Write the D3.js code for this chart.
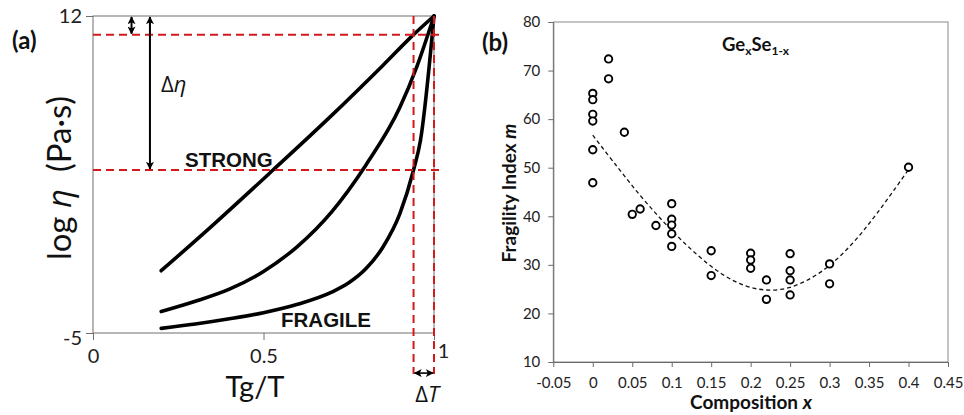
<!DOCTYPE html>
<html><head><meta charset="utf-8">
<script src="https://cdn.jsdelivr.net/npm/d3@7"></script>
<style>body{margin:0;background:#fff} svg{display:block}</style>
</head><body>
<svg id="c" width="964" height="415"></svg>
<script>
// ---------- Panel (a) data ----------
const tgT_strong   = [0.2, 0.35, 0.528, 0.7, 0.85, 0.94, 1];
const logEta_strong = [-1.66, 0.76, 3.74, 6.67, 9.35, 11.0, 12];
const tgT_mid      = [0.2, 0.3, 0.4, 0.5, 0.6, 0.7, 0.8, 0.9, 0.95, 1];
const logEta_mid    = [-3.85, -3.3, -2.65, -1.7, -0.35, 1.5, 4.0, 7.1, 9.3, 12];
const tgT_fragile  = [0.2, 0.3, 0.4, 0.5, 0.6, 0.7, 0.75, 0.8, 0.85, 0.9, 0.94, 0.96, 1];
const logEta_fragile = [-4.75, -4.52, -4.24, -3.91, -3.46, -2.81, -2.31, -1.56, -0.4, 1.4, 3.74, 5.3, 12];
const aXTicks = [0, 0.5, 1];
const aYTicks = [-5, 12];
const etaLevels = [11, 3.74];     // horizontal red dashed levels
const tLevels = [0.94, 1];        // vertical red dashed levels

// ---------- Panel (b) data ----------
const compX = [0,0,0,0,0,0, 0.02,0.02, 0.04, 0.05, 0.06, 0.08,
               0.1,0.1,0.1,0.1,0.1, 0.15,0.15, 0.2,0.2,0.2, 0.22,0.22,
               0.25,0.25,0.25,0.25, 0.3,0.3, 0.4];
const fragM = [65.3,64.0,61.0,59.6,53.7,46.9, 72.4,68.3, 57.3, 40.4, 41.5, 38.1,
               42.6,39.4,38.2,36.4,33.8, 32.9,27.8, 32.4,31.0,29.3, 26.9,22.9,
               32.3,28.8,26.9,23.8, 30.2,26.1, 50.1];
const trendX = [0, 0.03, 0.06, 0.09, 0.12, 0.15, 0.18, 0.21, 0.24, 0.27, 0.30, 0.33, 0.36, 0.40];
const trendM = [56.7, 50.4, 44.3, 38.8, 33.9, 29.7, 26.6, 25.0, 25.0, 26.7, 29.9, 34.6, 40.6, 49.6];
const bXTicks = [-0.05, 0, 0.05, 0.1, 0.15, 0.2, 0.25, 0.3, 0.35, 0.4, 0.45];
const bYTicks = [10, 20, 30, 40, 50, 60, 70, 80];

const svg = d3.select("#c");
svg.append("rect").attr("width",964).attr("height",415).attr("fill","#fff");
const RED = "#d2191c";
const calib = "Lato, 'Open Sans', sans-serif";

// ================= Panel (a) =================
const xA = d3.scaleLinear().domain([0,1]).range([93,434]);
const yA = d3.scaleLinear().domain([-5,12]).range([333,16]);
const gA = svg.append("g");

gA.append("rect").attr("x",xA(0)).attr("y",yA(12))
  .attr("width",xA(1)-xA(0)).attr("height",yA(-5)-yA(12))
  .attr("fill","none").attr("stroke","#6e6e6e").attr("stroke-width",1);

const axA_x = gA.append("g").attr("transform",`translate(0,${yA(-5)})`)
  .call(d3.axisBottom(xA).tickValues(aXTicks).tickSize(7).tickSizeOuter(0).tickPadding(9).tickFormat(d=>String(d)));
const axA_y = gA.append("g").attr("transform",`translate(${xA(0)},0)`)
  .call(d3.axisLeft(yA).tickValues(aYTicks).tickSize(7).tickSizeOuter(0).tickPadding(4).tickFormat(d=>String(d)));
[axA_x, axA_y].forEach(a=>{
  a.select(".domain").remove();
  a.selectAll("line").attr("stroke","#6e6e6e");
  a.selectAll("text").attr("font-family",calib).attr("font-size",20).attr("fill","#222");
});
axA_x.selectAll(".tick").filter(d=>d===1).select("text").attr("dx",9).attr("dy","0.45em");
axA_y.selectAll(".tick").filter(d=>d===-5).select("text").attr("dy","0.55em");

const lineA = d3.line().x(d=>xA(d[0])).y(d=>yA(d[1])).curve(d3.curveMonotoneX);
[[tgT_strong,logEta_strong],[tgT_mid,logEta_mid],[tgT_fragile,logEta_fragile]].forEach(([xs,ys])=>{
  gA.append("path").datum(xs.map((x,i)=>[x,ys[i]]))
    .attr("d",lineA).attr("fill","none").attr("stroke","#000")
    .attr("stroke-width",3.6).attr("stroke-linecap","round").attr("stroke-linejoin","round");
});

etaLevels.forEach(v=>{
  gA.append("line").attr("x1",xA(0)).attr("x2",xA(1.02)).attr("y1",yA(v)).attr("y2",yA(v))
    .attr("stroke",RED).attr("stroke-width",2).attr("stroke-dasharray","8,5");
});
tLevels.forEach(v=>{
  gA.append("line").attr("x1",xA(v)).attr("x2",xA(v)).attr("y1",yA(12)).attr("y2",yA(-7.2))
    .attr("stroke",RED).attr("stroke-width",2).attr("stroke-dasharray","8,5");
});

const defs = svg.append("defs");
defs.append("marker").attr("id","ah").attr("viewBox","0 0 10 10").attr("refX",9).attr("refY",5)
  .attr("markerWidth",4).attr("markerHeight",4).attr("orient","auto-start-reverse")
  .attr("markerUnits","strokeWidth")
  .append("path").attr("d","M0,0 L10,5 L0,10 L2.5,5 Z").attr("fill","#000");
defs.append("marker").attr("id","ahs").attr("viewBox","0 0 10 10").attr("refX",9).attr("refY",5)
  .attr("markerWidth",5).attr("markerHeight",5).attr("orient","auto-start-reverse")
  .attr("markerUnits","strokeWidth")
  .append("path").attr("d","M0,0 L10,5 L0,10 L2.5,5 Z").attr("fill","#000");

function dArrow(x1,y1,x2,y2,w,m){
  gA.append("line").attr("x1",x1).attr("y1",y1).attr("x2",x2).attr("y2",y2)
    .attr("stroke","#000").attr("stroke-width",w)
    .attr("marker-start",`url(#${m})`).attr("marker-end",`url(#${m})`);
}
dArrow(xA(0.113), yA(12)+1, xA(0.113), yA(etaLevels[0])-1, 2, "ah");
dArrow(xA(0.167), yA(12)+1, xA(0.167), yA(etaLevels[1])-1, 2, "ah");
dArrow(xA(tLevels[0])+1, yA(-7.15), xA(tLevels[1])-1, yA(-7.15), 1.6, "ahs");

svg.append("text").attr("x",12).attr("y",49).attr("font-family",calib).attr("font-weight","bold")
  .attr("font-size",24).attr("fill","#111").text("(a)");
const yl = svg.append("text").attr("transform","translate(71,178) rotate(-90)")
  .attr("text-anchor","middle").attr("font-family",calib).attr("font-size",33).attr("fill","#111");
yl.append("tspan").text("log ");
yl.append("tspan").attr("font-style","italic").attr("font-family","'Open Sans', sans-serif").text("η");
yl.append("tspan").text("\u00a0 (Pa·s)");
svg.append("text").attr("x",255).attr("y",397).attr("text-anchor","middle")
  .attr("font-family",calib).attr("font-size",29).attr("fill","#111").text("Tg/T");
const de = svg.append("text").attr("x",161).attr("y",92).attr("font-family","'Open Sans', sans-serif")
  .attr("font-size",22).attr("fill","#111");
de.append("tspan").text("Δ");
de.append("tspan").attr("font-style","italic").text("η");
const dt = svg.append("text").attr("x",427).attr("y",402).attr("text-anchor","middle")
  .attr("font-family","'Open Sans', sans-serif").attr("font-size",22).attr("fill","#111");
dt.append("tspan").text("Δ");
dt.append("tspan").attr("font-style","italic").text("T");
svg.append("text").attr("x",185).attr("y",167).attr("font-family","'Liberation Sans', Arial, sans-serif")
  .attr("font-weight","bold").attr("font-size",20.5).attr("fill","#111").text("STRONG");
svg.append("text").attr("x",281).attr("y",327).attr("font-family","'Liberation Sans', Arial, sans-serif")
  .attr("font-weight","bold").attr("font-size",20.5).attr("fill","#111").text("FRAGILE");

// ================= Panel (b) =================
const xB = d3.scaleLinear().domain([-0.05,0.45]).range([553.3,948]);
const yB = d3.scaleLinear().domain([10,80]).range([362,22]);
const gB = svg.append("g");

gB.append("rect").attr("x",xB(-0.05)).attr("y",yB(80))
  .attr("width",xB(0.45)-xB(-0.05)).attr("height",yB(10)-yB(80))
  .attr("fill","none").attr("stroke","#8a8a8a").attr("stroke-width",1);

const axB_x = gB.append("g").attr("transform",`translate(0,${yB(10)})`)
  .call(d3.axisBottom(xB).tickValues(bXTicks).tickSize(5).tickSizeOuter(0).tickPadding(10).tickFormat(d=>String(d)));
const axB_y = gB.append("g").attr("transform",`translate(${xB(-0.05)},0)`)
  .call(d3.axisLeft(yB).tickValues(bYTicks).tickSize(5).tickSizeOuter(0).tickPadding(8).tickFormat(d=>String(d)));
[axB_x, axB_y].forEach(a=>{
  a.select(".domain").attr("stroke","#6a6a6a");
  a.selectAll("line").attr("stroke","#6a6a6a");
  a.selectAll("text").attr("font-family",calib).attr("font-size",15).attr("fill","#222");
});

const lineB = d3.line().x(d=>xB(d[0])).y(d=>yB(d[1])).curve(d3.curveCatmullRom);
gB.append("path").datum(trendX.map((x,i)=>[x,trendM[i]])).attr("d",lineB)
  .attr("fill","none").attr("stroke","#111").attr("stroke-width",1.3).attr("stroke-dasharray","4,3");

gB.selectAll("circle.pt").data(compX.map((x,i)=>[x,fragM[i]])).join("circle")
  .attr("class","pt").attr("cx",d=>xB(d[0])).attr("cy",d=>yB(d[1])).attr("r",3.7)
  .attr("fill","#fff").attr("stroke","#000").attr("stroke-width",1.9);

svg.append("text").attr("x",482).attr("y",51).attr("font-family",calib).attr("font-weight","bold")
  .attr("font-size",24).attr("fill","#111").text("(b)");
const tt = svg.append("text").attr("x",722).attr("y",51).attr("font-family",calib)
  .attr("font-weight","bold").attr("font-size",18.5).attr("fill","#111");
tt.append("tspan").text("Ge");
tt.append("tspan").attr("font-size",12).attr("dy",4).text("x");
tt.append("tspan").attr("dy",-4).text("Se");
tt.append("tspan").attr("font-size",12).attr("dy",4).text("1-x");
const fl = svg.append("text").attr("transform","translate(516,193) rotate(-90)").attr("text-anchor","middle")
  .attr("font-family",calib).attr("font-weight","bold").attr("font-size",19).attr("fill","#111");
fl.append("tspan").text("Fragility Index ");
fl.append("tspan").attr("font-style","italic").text("m");
const cx = svg.append("text").attr("x",751).attr("y",409).attr("text-anchor","middle")
  .attr("font-family",calib).attr("font-weight","bold").attr("font-size",19).attr("fill","#111");
cx.append("tspan").text("Composition ");
cx.append("tspan").attr("font-style","italic").text("x");
</script>
</body></html>
